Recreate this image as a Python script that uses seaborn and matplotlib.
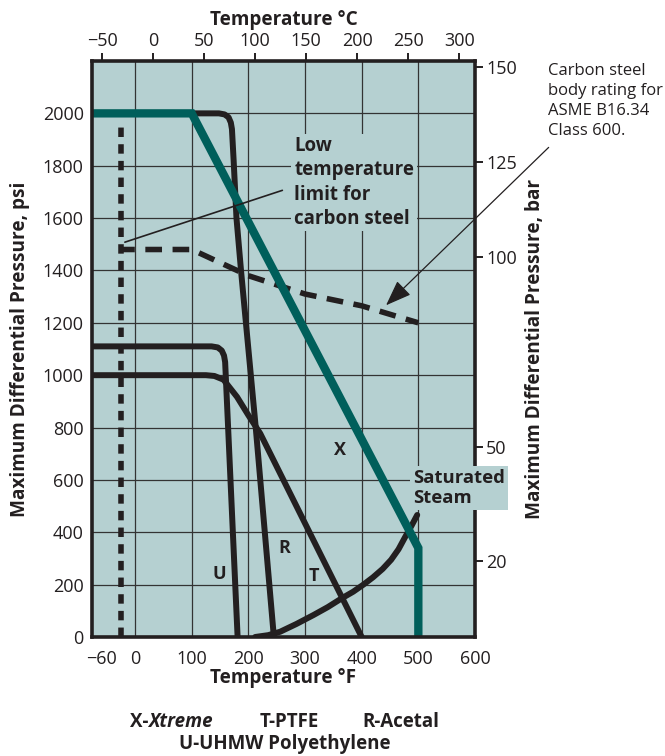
import matplotlib.pyplot as plt
import seaborn as sns

# Values: temperature in deg F, pressure in psi
x_temp = [-76, 100, 500, 500]
x_psi = [2000, 2000, 340, 0]

r_temp = [100, 148, 158, 165, 169, 171, 174, 179, 187, 213, 245]
r_psi = [2000, 2000, 1996, 1985, 1965, 1940, 1820, 1600, 1400, 800, 0]

t_temp = [-76, 125, 140, 156, 180, 200, 221, 400]
t_psi = [1000, 1000, 997, 983, 917, 847, 777, 0]

u_temp = [-76, 135, 146, 153, 157, 159, 181]
u_psi = [1110, 1110, 1106, 1094, 1075, 1050, 0]

steam_temp = [212, 235, 256, 285, 315, 340, 365, 385, 403, 420, 437, 452, 465, 477, 488, 498]
steam_psi = [0, 7, 20, 50, 84, 114, 148, 173, 200, 228, 260, 295, 335, 383, 425, 466]

# carbon steel limits (dashed)
cs_low_temp = [-25, -25]
cs_low_psi = [0, 1960]
cs_temp = [-25, 100, 200, 300, 400, 500]
cs_psi = [1480, 1480, 1380, 1310, 1265, 1200]

f_ticks = [-60, 0, 100, 200, 300, 400, 500, 600]
f_grid = [0, 100, 200, 300, 400, 500]
c_ticks = [-50, 0, 50, 100, 150, 200, 250, 300]
psi_ticks = list(range(0, 2001, 200))
bar_ticks = [20, 50, 100, 125, 150]

BG = '#b5d0d1'
TEAL = '#005f5b'
INK = '#231f20'
GRID = '#333333'

sns.set_style('white')
plt.rcParams['font.family'] = ['Open Sans', 'DejaVu Sans']

fig = plt.figure(figsize=(6.65, 7.56), dpi=100)
ax = fig.add_axes([92 / 665, 1 - 637 / 756, 383 / 665, 576 / 756])
ax.set_facecolor(BG)

# curves
line_kw = dict(sort=False, estimator=None, color=INK, lw=4.3, ax=ax, solid_joinstyle='round')
sns.lineplot(x=u_temp, y=u_psi, **line_kw)
sns.lineplot(x=t_temp, y=t_psi, **line_kw)
sns.lineplot(x=r_temp, y=r_psi, **line_kw)
sns.lineplot(x=steam_temp, y=steam_psi, **line_kw)
sns.lineplot(x=cs_low_temp, y=cs_low_psi, sort=False, estimator=None, color=INK, lw=4.0, ax=ax,
             linestyle=(0, (1.7, 1.3)), dash_capstyle='butt')
sns.lineplot(x=cs_temp, y=cs_psi, sort=False, estimator=None, color=INK, lw=4.0, ax=ax,
             linestyle=(0.5, (3.0, 1.9)), dash_capstyle='butt')
sns.lineplot(x=x_temp, y=x_psi, sort=False, estimator=None, color=TEAL, lw=6, ax=ax,
             solid_joinstyle='miter')

ax.set_xlim(-76, 600)
ax.set_ylim(0, 2200)

# axes styling
for s in ax.spines.values():
    s.set_visible(True)
    s.set_color(INK)
    s.set_linewidth(2.6)
    s.set_zorder(5)

ax.xaxis.remove_overlapping_locs = False
ax.set_xticks(f_ticks)
ax.set_xticks(f_grid, minor=True)
ax.set_yticks(psi_ticks)
ax.tick_params(axis='both', which='both', length=0, labelsize=13, colors=INK)
ax.tick_params(axis='x', pad=9)
ax.tick_params(axis='y', pad=6)
ax.xaxis.grid(False, which='major')
ax.xaxis.grid(True, which='minor', color=GRID, lw=0.9)
ax.yaxis.grid(True, which='major', color=GRID, lw=0.9)
ax.set_axisbelow(True)

lab = dict(fontsize=13.7, fontweight='bold', color=INK)
ax.set_xlabel('Temperature °F', labelpad=0, **lab)
ax.set_ylabel('Maximum Differential Pressure, psi', labelpad=9, **lab)

secx = ax.secondary_xaxis('top', functions=(lambda f: (f - 32) * 5 / 9,
                                            lambda c: c * 9 / 5 + 32))
secx.set_xticks(c_ticks)
secx.tick_params(direction='out', length=6, width=1.4, pad=2, labelsize=13, colors=INK)
secx.spines['top'].set_visible(False)
secx.set_xlabel('Temperature °C', labelpad=5, **lab)

secy = ax.secondary_yaxis('right', functions=(lambda p: p / 14.5038,
                                              lambda b: b * 14.5038))
secy.set_yticks(bar_ticks)
secy.tick_params(direction='out', length=6, width=1.4, pad=2, labelsize=13, colors=INK)
secy.spines['right'].set_visible(False)
secy.set_ylabel('Maximum Differential Pressure, bar', labelpad=6, **lab)

# curve labels
lbl = dict(fontsize=13, fontweight='bold', color=INK, ha='center', va='center')
ax.text(362, 714, 'X', **lbl)
ax.text(263, 340, 'R', **lbl)
ax.text(316, 233, 'T', **lbl)
ax.text(148, 240, 'U', **lbl)

ax.text(491, 643, 'Saturated\nSteam', fontsize=13.3, fontweight='bold', color=INK,
        ha='left', va='top', linespacing=1.2, zorder=20, clip_on=False,
        bbox=dict(facecolor=BG, edgecolor='none', pad=2))

ax.text(281, 1912, 'Low\ntemperature\nlimit for\ncarbon steel', fontsize=13.5,
        fontweight='bold', color=INK, ha='left', va='top', linespacing=1.27, zorder=6,
        bbox=dict(facecolor=BG, edgecolor='none', pad=2))
ax.annotate('', xy=(-18, 1508), xytext=(260, 1706),
            arrowprops=dict(arrowstyle='-', lw=1.2, color=INK, shrinkA=0, shrinkB=0))

ax.annotate('', xy=(443, 1267), xytext=(730, 1870), annotation_clip=False,
            arrowprops=dict(arrowstyle='-|>,head_length=0.8,head_width=0.3', lw=0.9,
                            color=INK, mutation_scale=20, shrinkA=0, shrinkB=0))
fig.text(548 / 665, 1 - 63 / 756, 'Carbon steel\nbody rating for\nASME B16.34\nClass 600.',
         fontsize=12, color=INK, ha='left', va='top', linespacing=1.33)

# legend text
kw = dict(fontsize=13.5, fontweight='bold', color=INK, va='bottom', ha='left')
t1 = fig.text(130 / 665, 1 - 732 / 756, 'X-', **kw)
ax.annotate('Xtreme', xy=(1, 0), xycoords=t1, fontstyle='italic', annotation_clip=False, **kw)
fig.text(260 / 665, 1 - 732 / 756, 'T-PTFE', **kw)
fig.text(362 / 665, 1 - 732 / 756, 'R-Acetal', **kw)
fig.text(285 / 665, 0.002, 'U-UHMW Polyethylene', fontsize=13.5,
         fontweight='bold', color=INK, va='bottom', ha='center')

fig.savefig('out.png', dpi=100, facecolor='white')
